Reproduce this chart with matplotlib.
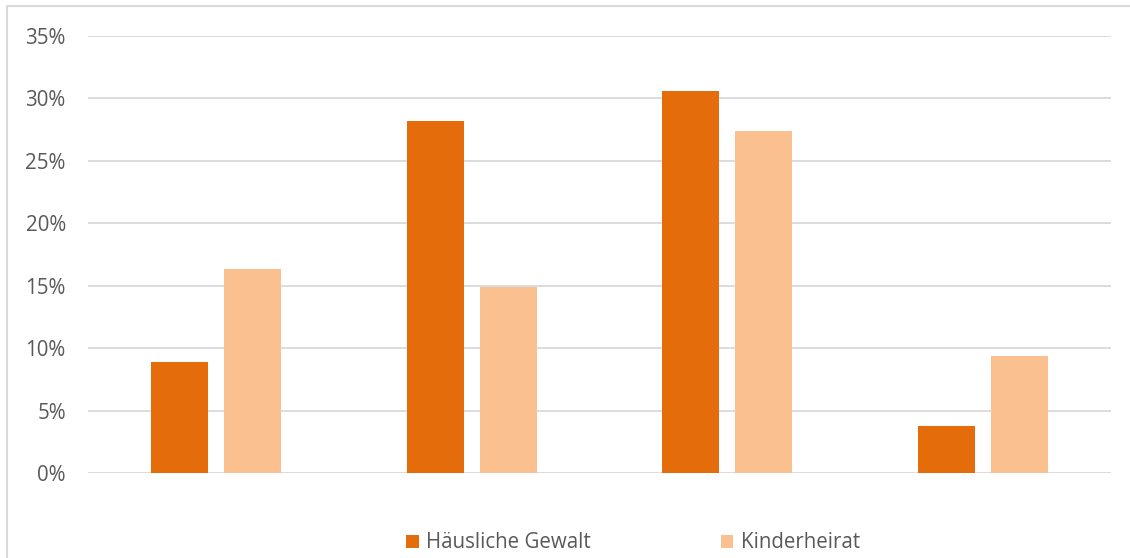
import matplotlib
matplotlib.use("Agg")
import matplotlib.pyplot as plt
import numpy as np
from matplotlib.lines import Line2D
from matplotlib.patches import Patch

categories = ["1", "2", "3", "4"]
series_names = ["Häusliche Gewalt", "Kinderheirat"]
haeusliche_gewalt = [0.089, 0.282, 0.306, 0.038]
kinderheirat = [0.163, 0.149, 0.274, 0.094]
yticks = [0, 0.05, 0.10, 0.15, 0.20, 0.25, 0.30, 0.35]
ytick_labels = ["0%", "5%", "10%", "15%", "20%", "25%", "30%", "35%"]

colors = ["#E46C0A", "#FAC090"]
text_color = "#595959"
grid_color = "#D9D9D9"

plt.rcParams['font.family'] = ['Open Sans', 'DejaVu Sans']

W, H = 1130, 558
fig = plt.figure(figsize=(W / 100, H / 100), dpi=100)
ax = fig.add_axes([88 / W, 1 - 473 / H, (1111 - 88) / W, (473 - 36) / H])

x = np.arange(len(categories))
bw = 0.223
off = 0.1427
ax.bar(x - off, haeusliche_gewalt, bw, color=colors[0], zorder=3)
ax.bar(x + off, kinderheirat, bw, color=colors[1], zorder=3)

ax.set_xlim(-0.5, len(categories) - 0.5)
ax.set_ylim(0, 0.35)
ax.set_yticks(yticks)
ax.set_yticklabels(ytick_labels, color=text_color, fontsize=14.8)
ax.set_xticks([])
ax.tick_params(axis='y', length=0, pad=16)
for s in ax.spines.values():
    s.set_visible(False)
ax.grid(axis='y', color=grid_color, linewidth=1.3, zorder=0)
ax.set_axisbelow(True)

# outer chart border (clipped at right and bottom)
fig.add_artist(Line2D([7 / W, 7 / W, 1.0], [0.0, 1 - 6 / H, 1 - 6 / H],
                      transform=fig.transFigure, color="#D9D9D9", linewidth=1.5))

handles = [Patch(facecolor=colors[0]), Patch(facecolor=colors[1])]
fig.legend(handles, series_names, loc='center', bbox_to_anchor=(633 / W, 1 - 543 / H),
           ncol=2, frameon=False, fontsize=14.8, labelcolor=text_color,
           handlelength=0.62, handleheight=0.62, handletextpad=0.35, columnspacing=6.3)

fig.savefig("out.png", dpi=100)
